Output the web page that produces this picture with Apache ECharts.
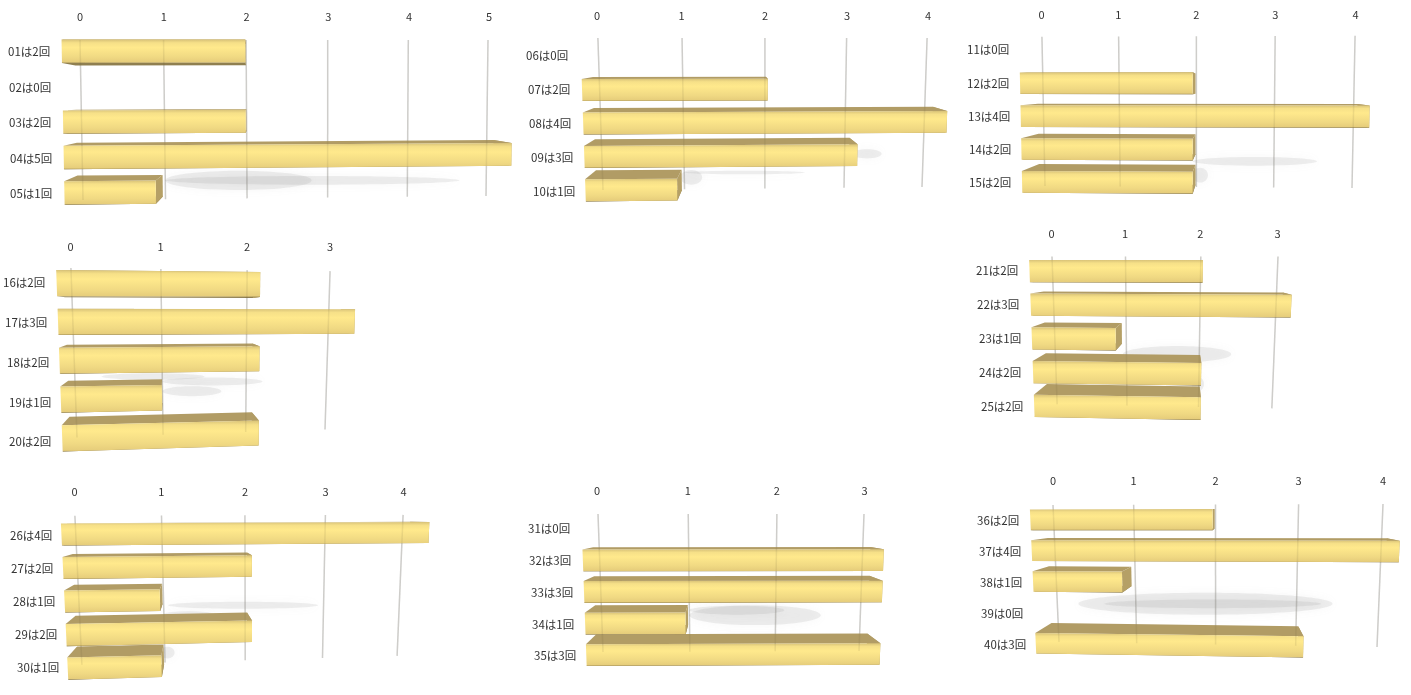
<!DOCTYPE html>
<html>
<head>
<meta charset="utf-8">
<style>html,body{margin:0;padding:0;background:#fff}#chart{width:1411px;height:695px}</style>
<script src="https://cdn.jsdelivr.net/npm/echarts@6/dist/echarts.min.js"></script>
</head>
<body>
<div id="chart"></div>
<script>
// Counts per respondent, five rows to a panel
const cats1 = ['01は2回', '02は0回', '03は2回', '04は5回', '05は1回'];
const vals1 = [2, 0, 2, 5, 1];
const ticks1 = [0, 1, 2, 3, 4, 5];
const cats2 = ['06は0回', '07は2回', '08は4回', '09は3回', '10は1回'];
const vals2 = [0, 2, 4, 3, 1];
const ticks2 = [0, 1, 2, 3, 4];
const cats3 = ['11は0回', '12は2回', '13は4回', '14は2回', '15は2回'];
const vals3 = [0, 2, 4, 2, 2];
const ticks3 = [0, 1, 2, 3, 4];
const cats4 = ['16は2回', '17は3回', '18は2回', '19は1回', '20は2回'];
const vals4 = [2, 3, 2, 1, 2];
const ticks4 = [0, 1, 2, 3];
const cats5 = ['21は2回', '22は3回', '23は1回', '24は2回', '25は2回'];
const vals5 = [2, 3, 1, 2, 2];
const ticks5 = [0, 1, 2, 3];
const cats6 = ['26は4回', '27は2回', '28は1回', '29は2回', '30は1回'];
const vals6 = [4, 2, 1, 2, 1];
const ticks6 = [0, 1, 2, 3, 4];
const cats7 = ['31は0回', '32は3回', '33は3回', '34は1回', '35は3回'];
const vals7 = [0, 3, 3, 1, 3];
const ticks7 = [0, 1, 2, 3];
const cats8 = ['36は2回', '37は4回', '38は1回', '39は0回', '40は3回'];
const vals8 = [2, 4, 1, 0, 3];
const ticks8 = [0, 1, 2, 3, 4];

// Soft floor shadows: [value from, value to, row position, half height in rows]
const shade1 = [[1.0, 4.66, 3.95, 0.14], [1.0, 2.8, 3.93, 0.3]];
const shade2 = [[3.1, 3.47, 3.35, 0.16], [0.95, 1.22, 4.1, 0.25], [1.0, 2.5, 3.95, 0.06]];
const shade3 = [[1.95, 3.55, 3.62, 0.15], [1.95, 2.15, 4.1, 0.25]];
const shade4 = [[0.3, 1.5, 2.72, 0.1], [1.0, 2.2, 2.9, 0.12], [1.0, 1.7, 3.19, 0.15]];
const shade5 = [[0.95, 2.43, 2.84, 0.28], [1.9, 2.07, 3.85, 0.25]];
const shade6 = [[1.05, 2.93, 2.53, 0.12], [1.0, 1.6, 2.8, 0.1], [0.95, 1.12, 4.09, 0.2]];
const shade7 = [[1.0, 2.53, 3.18, 0.36], [1.0, 2.1, 3.0, 0.16], [1.2, 2.2, 3.98, 0.06]];
const shade8 = [[0.27, 3.44, 3.05, 0.4], [0.6, 3.3, 3.05, 0.16]];

// Perspective of each panel: the gridline plane as a quadrilateral, the vanishing
// point, the depth ratios of the bar back face and of the plane, and text anchors.
const views = [
  { cats: cats1, vals: vals1, ticks: ticks1, shade: shade1, tl: [80, 40], tr: [488, 40], bl: [83, 200], br: [486, 196], span: [0, 1], bend: 0.03, vp: [254, 100], back: 0.93, plane: 0.9035, fill: 0.66, tickX: [80, 489], tickY: 17, rowY: [52, 194], rowX: [8, 9, 9, 10, 10] },
  { cats: cats2, vals: vals2, ticks: ticks2, shade: shade2, tl: [598, 41], tr: [927, 41], bl: [603, 190], br: [922, 187], span: [-0.02, 1], bend: 0.03, vp: [742, 50], back: 0.93, plane: 0.891, fill: 0.66, tickX: [597, 928], tickY: 16, rowY: [56, 192], rowX: [526, 528, 529, 531, 533] },
  { cats: cats3, vals: vals3, ticks: ticks3, shade: shade3, tl: [1042, 40], tr: [1355, 39], bl: [1045, 186], br: [1352, 188], span: [-0.022, 1], bend: -0.027, vp: [1226, 88], back: 0.915, plane: 0.889, fill: 0.66, tickX: [1041.5, 1355.5], tickY: 15, rowY: [50, 183], rowX: [967, 967, 968, 969, 969] },
  { cats: cats4, vals: vals4, ticks: ticks4, shade: shade4, tl: [71, 270], tr: [330, 273], bl: [77, 437.5], br: [325, 429.5], span: [-0.012, 1], bend: 0.063, vp: [165, 310], back: 0.925, plane: 0.862, fill: 0.675, tickX: [70.5, 330], tickY: 247, rowY: [283, 442], rowX: [3, 5, 7, 9, 9] },
  { cats: cats5, vals: vals5, ticks: ticks5, shade: shade5, tl: [1052, 256.5], tr: [1278, 256.5], bl: [1057, 400.5], br: [1272, 404.5], span: [0, 1.026], bend: -0.036, vp: [1188, 270], back: 0.915, plane: 0.855, fill: 0.66, tickX: [1051.5, 1277.5], tickY: 234, rowY: [271, 407], rowX: [976, 977, 979, 979, 981] },
  { cats: cats6, vals: vals6, ticks: ticks6, shade: shade6, tl: [75, 518], tr: [403, 517], bl: [82, 667], br: [397, 658], span: [-0.015, 0.985], bend: 0.075, vp: [190, 520], back: 0.92, plane: 0.889, fill: 0.66, tickX: [74.5, 403.5], tickY: 492, rowY: [536, 668], rowX: [10, 11, 13, 15, 17] },
  { cats: cats7, vals: vals7, ticks: ticks7, shade: shade7, tl: [598, 514], tr: [864, 514], bl: [603, 652], br: [859, 651], span: [0, 1], bend: 0.027, vp: [716, 520], back: 0.92, plane: 0.875, fill: 0.69, tickX: [597, 864.5], tickY: 491, rowY: [529, 656], rowX: [528, 529, 531, 532, 534] },
  { cats: cats8, vals: vals8, ticks: ticks8, shade: shade8, tl: [1053, 505], tr: [1383, 504], bl: [1059, 642], br: [1377, 647], span: [0, 1], bend: -0.03, vp: [1238, 510], back: 0.92, plane: 0.888, fill: 0.67, tickX: [1053, 1383], tickY: 481, rowY: [521, 645], rowX: [977, 979, 980, 981, 984] }
];

const FONT = '"Noto Sans CJK JP", "Noto Sans", sans-serif';
const FRONT_FILL = {
  type: 'linear', x: 0, y: 0, x2: 0, y2: 1,
  colorStops: [
    { offset: 0, color: '#d8c278' }, { offset: 0.14, color: '#f6e088' },
    { offset: 0.34, color: '#ffe98c' }, { offset: 0.75, color: '#f0d983' },
    { offset: 0.96, color: '#e6cd7b' }, { offset: 1, color: '#a08e58' }
  ]
};

const bend = (u, a) => u * (1 + a) / (1 + a * u);

// Position on the gridline plane for a normalized grid location
function onPlane(view, u, v) {
  const w = bend(u, view.bend);
  const tx = view.tl[0] + (view.tr[0] - view.tl[0]) * w, ty = view.tl[1] + (view.tr[1] - view.tl[1]) * w;
  const bx = view.bl[0] + (view.br[0] - view.bl[0]) * w, by = view.bl[1] + (view.br[1] - view.bl[1]) * w;
  return [tx + (bx - tx) * v, ty + (by - ty) * v];
}
const depth = (view, p, ratio) => [
  view.vp[0] + (p[0] - view.vp[0]) * ratio,
  view.vp[1] + (p[1] - view.vp[1]) * ratio
];
const gridFraction = (params, api, value, row) => {
  const cs = params.coordSys;
  const p0 = api.coord([value, 0]), p1 = api.coord([value, 1]);
  const y = p0[1] + row * (p1[1] - p0[1]);
  return [(p0[0] - cs.x) / cs.width, (y - cs.y) / cs.height];
};

function barCorners(view, params, api) {
  const value = api.value(0), row = api.value(1);
  const half = view.fill / 2;
  const a = gridFraction(params, api, 0, row - half), b = gridFraction(params, api, value, row - half);
  const c = gridFraction(params, api, value, row + half), d = gridFraction(params, api, 0, row + half);
  const plane = [a, b, c, d].map(q => onPlane(view, q[0], q[1]));
  return {
    front: plane.map(p => depth(view, p, 1 / view.plane)),
    rear: plane.map(p => depth(view, p, view.back / view.plane))
  };
}

const series = [];
const grids = [], xAxes = [], yAxes = [];

views.forEach((view, i) => {
  const tmax = view.ticks[view.ticks.length - 1];
  const n = view.cats.length;
  const band = (view.rowY[1] - view.rowY[0]) / (n - 1);
  const left = view.tickX[0], top = view.rowY[0] - band / 2;
  grids.push({ left, top, width: view.tickX[1] - view.tickX[0], height: band * n, containLabel: false, outerBoundsMode: 'none' });
  xAxes.push({
    gridIndex: i, type: 'value', position: 'top', min: 0, max: tmax, interval: 1,
    axisLine: { show: false }, axisTick: { show: false }, splitLine: { show: false },
    axisLabel: {
      customValues: view.ticks.map(t => tmax * bend(t / tmax, view.bend)),
      formatter: v => String(Math.round(v)),
      margin: top - view.tickY, verticalAlign: 'middle',
      fontFamily: FONT, fontSize: 11, color: '#333'
    }
  });
  yAxes.push({
    gridIndex: i, type: 'category', inverse: true,
    data: view.cats.map((c, r) => ({
      value: c,
      textStyle: { align: 'left', verticalAlign: 'middle', padding: [0, 0, 0, view.rowX[r] - view.rowX[0]] }
    })),
    axisLine: { show: false }, axisTick: { show: false }, splitLine: { show: false },
    axisLabel: {
      interval: 0, margin: left - view.rowX[0],
      fontFamily: FONT, fontSize: 11.5, color: '#333'
    }
  });

  const common = { type: 'custom', xAxisIndex: i, yAxisIndex: i, silent: true, animation: false, clip: false };
  const barData = view.vals.map((v, r) => [v, r]).filter(d => d[0] > 0);

  const lineRender = (stroke) => (params, api) => {
    const value = api.value(0), cs = params.coordSys;
    const u = (api.coord([value, 0])[0] - cs.x) / cs.width;
    const p = onPlane(view, u, view.span[0]), q = onPlane(view, u, view.span[1]);
    return { type: 'line', shape: { x1: p[0], y1: p[1], x2: q[0], y2: q[1] }, style: { stroke, lineWidth: 1.5 } };
  };

  // Gridlines on the far plane
  series.push(Object.assign({}, common, {
    z: 2, data: view.ticks.map(t => [t, 0]), encode: { x: 0, y: 1 },
    renderItem: lineRender('#dcdcdc')
  }));

  // Floor shadows
  series.push(Object.assign({}, common, {
    z: 3, data: view.shade, encode: { x: [0, 1], y: 2 },
    renderItem: (params, api) => {
      const a = gridFraction(params, api, api.value(0), api.value(2));
      const b = gridFraction(params, api, api.value(1), api.value(2));
      const c = gridFraction(params, api, api.value(0), api.value(2) - api.value(3));
      const pa = onPlane(view, a[0], a[1]), pb = onPlane(view, b[0], b[1]), pc = onPlane(view, c[0], c[1]);
      return {
        type: 'ellipse',
        shape: { cx: (pa[0] + pb[0]) / 2, cy: (pa[1] + pb[1]) / 2, rx: Math.abs(pb[0] - pa[0]) / 2, ry: Math.abs(pa[1] - pc[1]) },
        style: { fill: 'rgba(150,150,150,0.15)', shadowBlur: 10, shadowColor: 'rgba(150,150,150,0.45)' }
      };
    }
  }));

  // Far faces of each bar: underside, end and top
  series.push(Object.assign({}, common, {
    z: 4, data: barData, encode: { x: 0, y: 1 },
    renderItem: (params, api) => {
      const { front, rear } = barCorners(view, params, api);
      const poly = (idx, fill) => ({
        type: 'polygon',
        shape: { points: idx.map(k => k < 4 ? front[k] : rear[k - 4]) },
        style: { fill }
      });
      return {
        type: 'group',
        children: [
          poly([3, 2, 6, 7], '#8f7f50'),
          poly([1, 2, 6, 5], '#b5a066'),
          poly([0, 1, 5, 4], '#b19c65')
        ]
      };
    }
  }));

  // Near face of each bar
  series.push(Object.assign({}, common, {
    z: 5, data: barData, encode: { x: 0, y: 1 },
    renderItem: (params, api) => ({
      type: 'polygon',
      shape: { points: barCorners(view, params, api).front },
      style: { fill: FRONT_FILL }
    })
  }));

  // Gridlines showing faintly through the bars
  series.push(Object.assign({}, common, {
    z: 6, data: view.ticks.map(t => [t, 0]), encode: { x: 0, y: 1 },
    renderItem: lineRender('rgba(90,80,50,0.1)')
  }));
});

const chart = echarts.init(document.getElementById('chart'), null, { renderer: 'canvas' });
chart.setOption({
  animation: false,
  backgroundColor: '#fff',
  grid: grids,
  xAxis: xAxes,
  yAxis: yAxes,
  series
});
</script>
</body>
</html>
